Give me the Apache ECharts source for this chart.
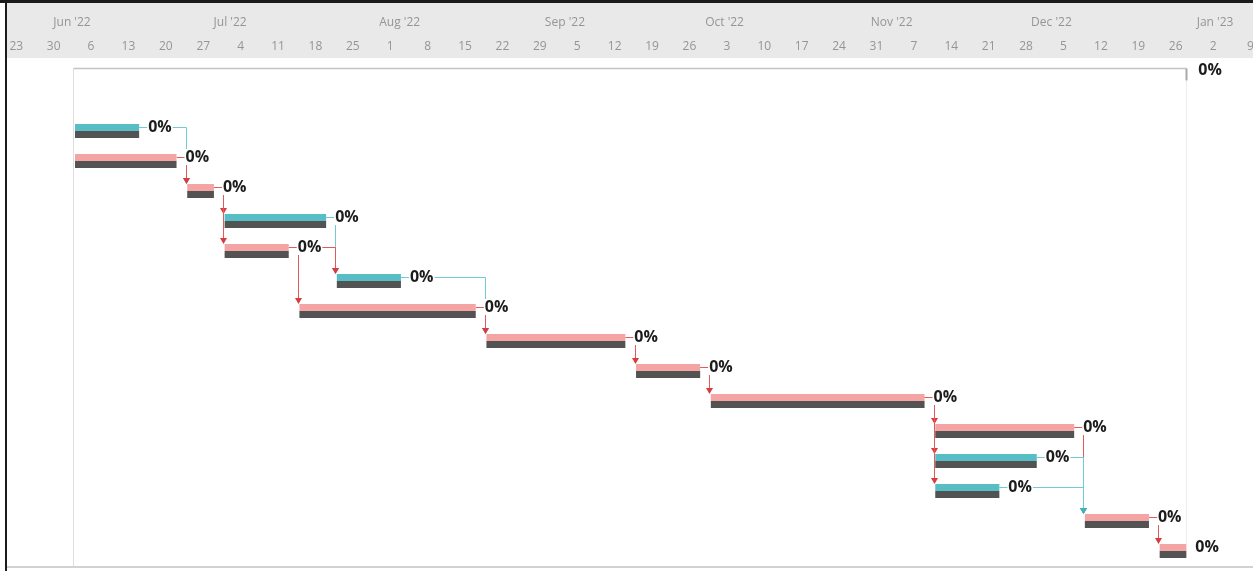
<!DOCTYPE html>
<html lang="en">
<head>
<meta charset="UTF-8"/>
<title>Tracking Gantt</title>
<script src="https://cdn.jsdelivr.net/npm/echarts@6.0.0/dist/echarts.min.js"></script>
<style>
    html, body { margin: 0; padding: 0; background: #fff; }
    #wrap { position: relative; width: 1253px; height: 571px; overflow: hidden; }
    #chart { position: absolute; left: 0; top: 0; width: 1253px; height: 571px; }
    .edge { position: absolute; }
</style>
</head>
<body>
<div id="wrap">
    <div id="chart"></div>
    <!-- frame of the screenshot -->
    <div class="edge" style="left:0;top:3px;width:5px;height:568px;background:#fff"></div>
    <div class="edge" style="left:5px;top:0;width:2px;height:571px;background:#1b1b1b"></div>
    <div class="edge" style="left:0;top:0;width:1253px;height:3px;background:#1b1b1b"></div>
    <div class="edge" style="left:7px;top:566px;width:1246px;height:2px;background:#d2d2d2"></div>
</div>
<script>
    // timescale
    const dayZero = '2022-06-06';
    const viewMin = -14.04, viewMax = 220.47;        // days from dayZero at the window edges
    const monthStarts = ['2022-06-01', '2022-07-01', '2022-08-01', '2022-09-01', '2022-10-01', '2022-11-01', '2022-12-01', '2023-01-01'];
    const monthLabels = ["Jun '22", "Jul '22", "Aug '22", "Sep '22", "Oct '22", "Nov '22", "Dec '22", "Jan '23"];
    const firstWeek = '2022-05-23';
    const weekLabels = ['23', '30', '6', '13', '20', '27', '4', '11', '18', '25', '1', '8', '15', '22', '29', '5', '12',
                        '19', '26', '3', '10', '17', '24', '31', '7', '14', '21', '28', '5', '12', '19', '26', '2', '9'];

    // project summary
    const projectStart = '2022-06-06';
    const projectFinish = '2022-12-30';
    const projectComplete = '0%';

    // tasks (row 0 = project summary, row 1 empty)
    const taskRow      = [2, 3, 4, 5, 6, 7, 8, 9, 10, 11, 12, 13, 14, 15, 16];
    const taskStart    = ['2022-06-06', '2022-06-06', '2022-06-27', '2022-07-04', '2022-07-04', '2022-07-25', '2022-07-18', '2022-08-22',
                          '2022-09-19', '2022-10-03', '2022-11-14', '2022-11-14', '2022-11-14', '2022-12-12', '2022-12-26'];
    const taskFinish   = ['2022-06-17', '2022-06-24', '2022-07-01', '2022-07-22', '2022-07-15', '2022-08-05', '2022-08-19', '2022-09-16',
                          '2022-09-30', '2022-11-11', '2022-12-09', '2022-12-02', '2022-11-25', '2022-12-23', '2022-12-30'];
    const taskCritical = [0, 1, 1, 0, 1, 0, 1, 1, 1, 1, 1, 0, 0, 1, 1];
    const taskComplete = ['0%', '0%', '0%', '0%', '0%', '0%', '0%', '0%', '0%', '0%', '0%', '0%', '0%', '0%', '0%'];

    // finish-to-start links (task indices)
    const linkFrom = [0, 1, 2, 2, 3, 4, 4, 5, 6, 7, 8, 9, 9, 9, 10, 11, 12, 13];
    const linkTo   = [2, 2, 3, 4, 5, 5, 6, 7, 7, 8, 9, 10, 11, 12, 13, 13, 13, 14];

    const CYAN = '#57bec6', PINK = '#f5a4a4', BASE = '#535353';
    const LINK_RED = '#e25a5a', LINK_CYAN = '#72cbd2', ARROW_RED = '#dc3a3c', ARROW_CYAN = '#3fb3bd';
    const FONT = '"Open Sans", "DejaVu Sans", sans-serif';

    function dayOf(s) {
        const [y, m, d] = s.split('-').map(Number);
        const [y0, m0, d0] = dayZero.split('-').map(Number);
        return Math.round((Date.UTC(y, m - 1, d) - Date.UTC(y0, m0 - 1, d0)) / 864e5);
    }

    const monthDays = monthStarts.map(dayOf);
    const weekMids = weekLabels.map((_, i) => dayOf(firstWeek) + 7 * i + 3);

    const taskData = taskStart.map((s, i) => [dayOf(s), dayOf(taskFinish[i]) + 1, taskRow[i], taskCritical[i]]);
    const linkData = linkFrom.map((f, i) => {
        const t = linkTo[i];
        return [dayOf(taskFinish[f]) + 1, taskRow[f], dayOf(taskStart[t]), taskRow[t], taskCritical[f]];
    });
    const summaryData = [[dayOf(projectStart), dayOf(projectFinish) + 1, 0]];

    const chart = echarts.init(document.getElementById('chart'));

    function renderSummary(params, api) {
        const a = api.coord([api.value(0), api.value(2)]);
        const b = api.coord([api.value(1), api.value(2)]);
        const bottom = params.coordSys.y + params.coordSys.height;
        const y = Math.round(a[1] - 3) + 0.5;
        const x0 = Math.round(a[0] - 2) + 0.5;
        const x1 = Math.round(b[0]) + 0.5;
        return {
            type: 'group',
            children: [
                { type: 'line', shape: { x1: x0, y1: bottom, x2: x0, y2: y }, style: { stroke: '#dedede', lineWidth: 1 } },
                { type: 'line', shape: { x1: x1, y1: y + 12, x2: x1, y2: bottom - 22 }, style: { stroke: '#ececec', lineWidth: 1 } },
                { type: 'line', shape: { x1: x0, y1: y, x2: x1, y2: y }, style: { stroke: '#c4c4c4', lineWidth: 1.5 } },
                { type: 'line', shape: { x1: x1, y1: y, x2: x1, y2: y + 12 }, style: { stroke: '#a8a8a8', lineWidth: 2 } },
                {
                    type: 'text', x: b[0] + 12, y: a[1] - 1,
                    style: { text: projectComplete, fill: '#1c1c1c', font: 'bold 16px ' + FONT, verticalAlign: 'middle', align: 'left' }
                }
            ]
        };
    }

    function renderLink(params, api) {
        const p = api.coord([api.value(0), api.value(1)]);
        const q = api.coord([api.value(2), api.value(3)]);
        const crit = api.value(4);
        const x = Math.round(q[0] - 1.5) + 0.5;
        const y0 = Math.round(p[1] - 4) + 0.5;
        const yTip = q[1] - 7;
        return {
            type: 'group',
            children: [
                {
                    type: 'polyline',
                    shape: { points: [[p[0], y0], [x, y0], [x, yTip - 4]] },
                    style: { stroke: crit ? LINK_RED : LINK_CYAN, lineWidth: 1, fill: null }
                },
                {
                    type: 'polygon',
                    shape: { points: [[x - 3.5, yTip - 6], [x + 3.5, yTip - 6], [x, yTip]] },
                    style: { fill: crit ? ARROW_RED : ARROW_CYAN }
                }
            ]
        };
    }

    function renderTask(params, api) {
        const a = api.coord([api.value(0), api.value(2)]);
        const b = api.coord([api.value(1), api.value(2)]);
        const w = b[0] - a[0];
        return {
            type: 'group',
            children: [
                { type: 'rect', shape: { x: a[0], y: a[1] - 7, width: w, height: 7 }, style: { fill: api.value(3) ? PINK : CYAN } },
                { type: 'rect', shape: { x: a[0], y: a[1], width: w, height: 7 }, style: { fill: BASE } }
            ]
        };
    }

    function renderLabel(params, api) {
        const b = api.coord([api.value(1), api.value(2)]);
        return {
            type: 'text', x: b[0] + 8, y: b[1] - 4,
            style: {
                text: taskComplete[params.dataIndex], fill: '#1c1c1c', font: 'bold 16px ' + FONT,
                verticalAlign: 'middle', align: 'left', backgroundColor: '#fff', padding: [0, 1]
            }
        };
    }

    chart.setOption({
        animation: false,
        backgroundColor: '#fff',
        grid: [
            { left: 0, right: 0, top: 3, height: 28, show: true, backgroundColor: '#e9e9e9', borderWidth: 0, outerBoundsMode: 'none' },
            { left: 0, right: 0, top: 31, height: 27, show: true, backgroundColor: '#e9e9e9', borderWidth: 0, outerBoundsMode: 'none' },
            { left: 0, right: 0, top: 56, height: 510, outerBoundsMode: 'none' }
        ],
        xAxis: [
            {
                gridIndex: 0, type: 'value', min: viewMin, max: viewMax, position: 'top',
                axisLine: { show: false }, axisTick: { show: false }, splitLine: { show: false },
                axisLabel: {
                    inside: true, margin: 14, customValues: monthDays, align: 'left', padding: [0, 0, 0, 5],
                    color: '#959595', fontSize: 12, fontFamily: FONT,
                    formatter: v => monthLabels[monthDays.indexOf(Math.round(v))] || ''
                }
            },
            {
                gridIndex: 1, type: 'value', min: viewMin, max: viewMax, position: 'top',
                axisLine: { show: false }, axisTick: { show: false }, splitLine: { show: false },
                axisLabel: {
                    inside: true, margin: 10, customValues: weekMids,
                    color: '#959595', fontSize: 12, fontFamily: FONT,
                    formatter: v => weekLabels[weekMids.indexOf(Math.round(v))] || ''
                }
            },
            { gridIndex: 2, type: 'value', min: viewMin, max: viewMax, show: false }
        ],
        yAxis: [
            { gridIndex: 0, type: 'value', show: false },
            { gridIndex: 1, type: 'value', show: false },
            { gridIndex: 2, type: 'value', min: -0.5, max: 16.5, inverse: true, show: false }
        ],
        series: [
            { type: 'custom', xAxisIndex: 2, yAxisIndex: 2, z: 1, renderItem: renderSummary, data: summaryData, silent: true },
            { type: 'custom', xAxisIndex: 2, yAxisIndex: 2, z: 2, renderItem: renderLink, data: linkData, silent: true },
            { type: 'custom', xAxisIndex: 2, yAxisIndex: 2, z: 3, renderItem: renderTask, data: taskData, silent: true },
            { type: 'custom', xAxisIndex: 2, yAxisIndex: 2, z: 4, renderItem: renderLabel, data: taskData, silent: true }
        ]
    });
</script>
</body>
</html>
